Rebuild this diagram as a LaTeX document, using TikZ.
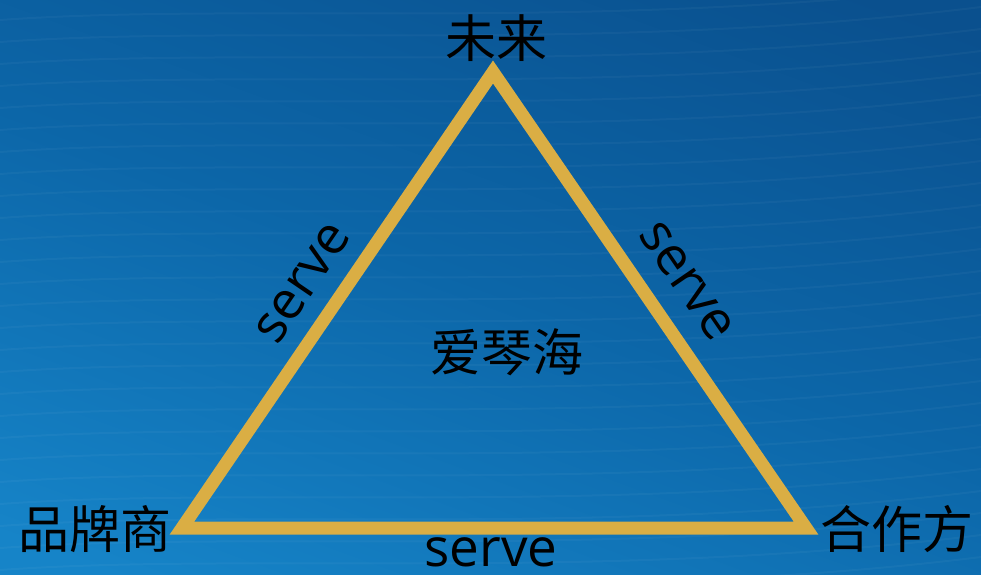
\documentclass[tikz,border=0pt]{standalone}
\usepackage{fontspec}
\setmainfont{Open Sans}
\newfontfamily\cjk{Noto Sans CJK SC}
\usetikzlibrary{calc}
\definecolor{gold}{RGB}{218,174,68}
\definecolor{bgdark}{RGB}{10,80,142}
\definecolor{bgmid}{RGB}{12,102,168}
\definecolor{bglight}{RGB}{22,132,200}
\tikzset{
  cjklabel/.style={font=\cjk\fontsize{51}{60}\selectfont, text=black, inner sep=0pt},
  servelabel/.style={font=\fontsize{53}{60}\selectfont, text=black},
  edge/.style={draw=gold, line width=13pt, line join=miter},
  streak/.style={white, opacity=0.035, line width=2pt}
}
\begin{document}
\begin{tikzpicture}[x=1pt,y=-1pt]
\useasboundingbox (0,0) rectangle (981,574);
\shade[shading=axis, top color=bgdark, bottom color=bglight, middle color=bgmid, shading angle=-20]
  (-60,-60) rectangle (1041,634);
% subtle wave texture
\foreach \yy in {10,32,54,76,98,120,142,164,186,208,230,252,274,296,318,340,362,384,406,428,450,472,494,516,538,560,582} {
  \draw[streak] (0,\yy+10) .. controls (250,\yy-8) and (600,\yy+22) .. (981,\yy-25);
}
\coordinate (top) at (493,72);
\coordinate (left) at (182,528);
\coordinate (right) at (806,528);
\draw[edge] (left) -- (top) -- (right) -- cycle;
\path (left) -- (top) node[servelabel, pos=0.49, sloped, anchor=south, inner sep=23pt] (sl) {serve};
\path (top) -- (right) node[servelabel, pos=0.51, sloped, anchor=south, inner sep=26pt] (sr) {serve};
\path (left) -- (right) node[servelabel, pos=0.495, anchor=north, inner sep=9pt] (sb) {serve};
\node[cjklabel] (future) at (496,38) {未来};
\node[cjklabel] (brand) at (95,529) {品牌商};
\node[cjklabel] (partner) at (897,529) {合作方};
\node[cjklabel] (aiqin) at (507,352) {爱琴海};
\end{tikzpicture}
\end{document}
